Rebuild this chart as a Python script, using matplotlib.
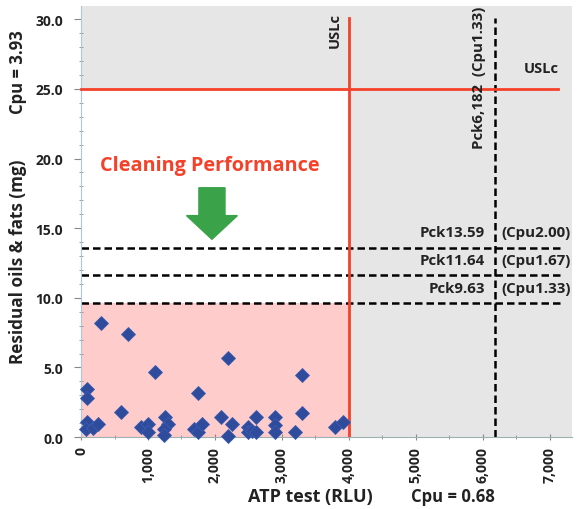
import matplotlib
matplotlib.use("Agg")
import matplotlib.pyplot as plt
from matplotlib.patches import Rectangle, FancyArrow
from matplotlib.ticker import MultipleLocator, FuncFormatter

# ---- data ----
atp_rlu = [94, 94, 299, 701, 1104, 1741, 2194, 3299, 3299, 597,
           94, 75, 184, 259, 896, 1000, 1000, 1254, 1294, 1244,
           1244, 1692, 1741, 1801, 2094, 2254, 2194, 2488, 2488, 2547,
           2607, 2607, 2896, 2896, 2896, 3199, 3786, 3905]
oils_mg = [3.45, 2.8, 8.2, 7.37, 4.69, 3.18, 5.7, 4.43, 1.75, 1.8,
           1.1, 0.57, 0.62, 0.93, 0.69, 0.93, 0.4, 1.41, 0.93, 0.57,
           0.17, 0.57, 0.33, 0.93, 1.41, 0.93, 0.05, 0.74, 0.38, 0.45,
           0.38, 1.41, 1.41, 0.88, 0.38, 0.33, 0.69, 1.05]

usl_atp = 4000
usl_oil = 25.0
pck_atp = 6182
pck_oil = [13.59, 11.64, 9.63]
pck_oil_labels = ["Pck13.59", "Pck11.64", "Pck9.63"]
cpu_oil_labels = ["(Cpu2.00)", "(Cpu1.67)", "(Cpu1.33)"]

xlim = (0, 7330)
ylim = (0, 30.94)

RED = "#f5412a"
GRAY = "#e6e6e6"
PINK = "#ffcccc"
BLUE = "#2f4c9c"
GREEN = "#3aa34a"
TXT = "#222222"

plt.rcParams['font.family'] = ['Open Sans', 'DejaVu Sans']

fig = plt.figure(figsize=(5.8, 5.1), dpi=100)
ax = fig.add_axes([0.1397, 0.141, 0.8463, 0.845])
ax.set_xlim(*xlim)
ax.set_ylim(*ylim)
ax.set_facecolor(GRAY)

ax.add_patch(Rectangle((0, 0), usl_atp, usl_oil, facecolor="white", edgecolor="none", zorder=0.5))
ax.add_patch(Rectangle((0, 0), usl_atp, pck_oil[-1], facecolor=PINK, edgecolor="none", zorder=0.6))

# dashed lines
for v in pck_oil:
    ax.plot([0, 7150], [v, v], color="black", lw=1.8, ls=(0, (3.0, 1.6)), zorder=2)
ax.plot([pck_atp, pck_atp], [0, 30.1], color="black", lw=1.8, ls=(0, (3.0, 1.6)), zorder=2)

# red USL lines
ax.plot([0, 7130], [usl_oil, usl_oil], color=RED, lw=2, zorder=3, clip_on=False)
ax.plot([usl_atp, usl_atp], [0, 30.1], color=RED, lw=2, zorder=3)

ax.plot(atp_rlu, oils_mg, ls="none", marker="D", ms=6.8, color=BLUE,
        markeredgecolor="#3a5cb0", markeredgewidth=0.6, zorder=4, clip_on=False)

# texts
ax.text(3790, 30.55, "USLc", rotation=90, ha="center", va="top", fontsize=10.5,
        fontweight="bold", color=TXT)
ax.text(6880, 26.5, "USLc", ha="center", va="center", fontsize=10.5,
        fontweight="bold", color=TXT)
ax.text(5940, 31.0, "Pck6,182  (Cpu1.33)", rotation=90, ha="center", va="top",
        fontsize=10.8, fontweight="bold", color=TXT)
for v, l1, l2 in zip(pck_oil, pck_oil_labels, cpu_oil_labels):
    ax.text(6030, v + 1.1, l1, ha="right", va="center", fontsize=10.8,
            fontweight="bold", color=TXT)
    ax.text(6284, v + 1.1, l2, ha="left", va="center", fontsize=10.8,
            fontweight="bold", color=TXT)

ax.text(1925, 19.5, "Cleaning Performance", ha="center", va="center",
        fontsize=14.3, fontweight="bold", color=RED)
ax.add_patch(FancyArrow(1955, 17.9, 0, -3.7, width=390, head_width=760,
                        head_length=1.7, length_includes_head=True,
                        color=GREEN, zorder=5))

# axes styling
for s in ["top", "right"]:
    ax.spines[s].set_visible(False)
ax.spines["left"].set_color("#a9c8e4")
ax.spines["bottom"].set_color("#a0b0b0")
ax.yaxis.set_major_locator(MultipleLocator(5))
ax.yaxis.set_minor_locator(MultipleLocator(1))
ax.xaxis.set_major_locator(MultipleLocator(1000))
ax.xaxis.set_minor_locator(MultipleLocator(500))
ax.yaxis.set_major_formatter(FuncFormatter(lambda v, p: f"{v:.1f}"))
ax.xaxis.set_major_formatter(FuncFormatter(lambda v, p: f"{int(v):,}"))
ax.tick_params(axis="y", which="major", length=5, color="#888888", direction="out",
               labelsize=10, labelcolor=TXT, pad=8)
ax.tick_params(axis="y", which="minor", length=3, color="#888888", direction="inout")
ax.tick_params(axis="x", which="major", length=5, color="#888888", direction="inout",
               labelsize=10, labelcolor=TXT, labelrotation=90, pad=4)
ax.tick_params(axis="x", which="minor", length=3, color="#888888", direction="inout")
for lab in ax.get_xticklabels() + ax.get_yticklabels():
    lab.set_fontweight("bold")

fig.text(18 / 580, 1 - 262 / 510, "Residual oils & fats (mg)", rotation=90,
         ha="center", va="center", fontsize=12.3, fontweight="bold", color=TXT)
fig.text(18 / 580, 1 - 72 / 510, "Cpu = 3.93", rotation=90,
         ha="center", va="center", fontsize=12, fontweight="bold", color=TXT)
fig.text(310 / 580, 1 - 497 / 510, "ATP test (RLU)", ha="center", va="center",
         fontsize=13, fontweight="bold", color=TXT)
fig.text(453 / 580, 1 - 497 / 510, "Cpu = 0.68", ha="center", va="center",
         fontsize=12, fontweight="bold", color=TXT)

fig.savefig("out.png", dpi=100)
